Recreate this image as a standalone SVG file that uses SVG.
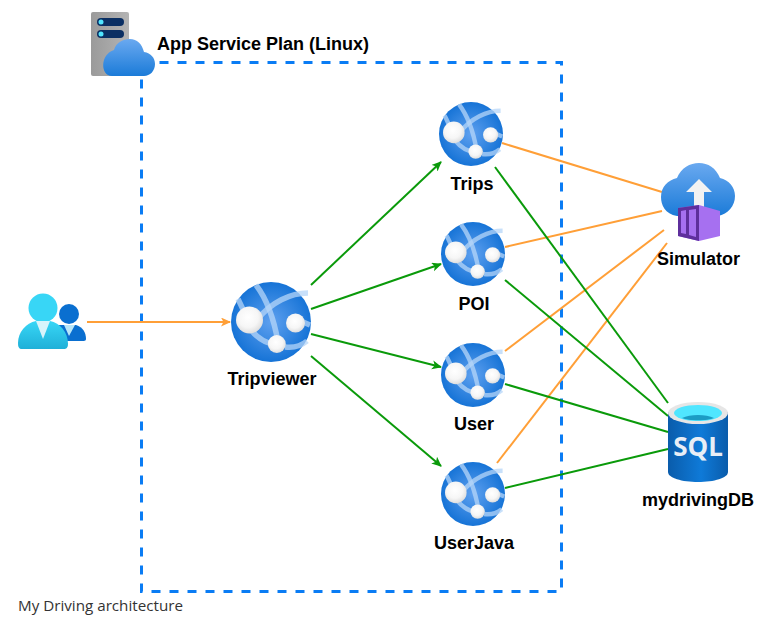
<svg xmlns="http://www.w3.org/2000/svg" xmlns:xlink="http://www.w3.org/1999/xlink" width="773" height="622" viewBox="0 0 773 622">
<style>
text{font-family:"Liberation Sans",Arial,sans-serif;fill:#000}
.l{font-size:18px;font-weight:700;text-anchor:middle}
.o{stroke:#ff9f37;stroke-width:2;fill:none}
.g{stroke:#0a9a0a;stroke-width:2;fill:none}
</style>
<defs>
<radialGradient id="gw" cx=".5" cy=".5" r=".55"><stop offset="0" stop-color="#5ea0ef"/><stop offset="1" stop-color="#0f6fd4"/></radialGradient>
<radialGradient id="gb" cx=".45" cy=".4" r=".62"><stop offset="0" stop-color="#fff"/><stop offset=".6" stop-color="#f6f6f6"/><stop offset="1" stop-color="#dcdcdc"/></radialGradient>
<linearGradient id="gc" x1="0" y1="0" x2="0" y2="1"><stop offset="0" stop-color="#6aa9f0"/><stop offset="1" stop-color="#1b7bd8"/></linearGradient>
<linearGradient id="gp" x1="0" y1="0" x2="0" y2="1"><stop offset="0" stop-color="#38d6f6"/><stop offset="1" stop-color="#1fb0d8"/></linearGradient>
<linearGradient id="gs" x1="0" y1="0" x2="1" y2="0"><stop offset="0" stop-color="#0a5cab"/><stop offset=".55" stop-color="#0f7ad8"/><stop offset="1" stop-color="#0a5cab"/></linearGradient>
<linearGradient id="gv" x1="0" y1="0" x2="1" y2="0"><stop offset="0" stop-color="#9a9a9a"/><stop offset="1" stop-color="#b4b4b4"/></linearGradient>
<marker id="mg" markerWidth="11" markerHeight="10" refX="9" refY="4.500" orient="auto" markerUnits="userSpaceOnUse"><path d="M0 0L10 4.500L0 9L2.500 4.500Z" fill="#0a9a0a"/></marker>
<marker id="mo" markerWidth="11" markerHeight="10" refX="9" refY="4.500" orient="auto" markerUnits="userSpaceOnUse"><path d="M0 0L10 4.500L0 9L2.500 4.500Z" fill="#ff9f37"/></marker>
<symbol id="web" viewBox="-40 -40 80 80" overflow="visible">
<circle r="40" fill="url(#gw)"/>
<g fill="none" stroke="#b6d6f8" stroke-opacity=".75" stroke-width="5.500">
<path d="M-33 -23C-29 -15 -26 -8 -22 0"/>
<path d="M-15 -37C-5 -24 2 -8 7 20"/>
<path d="M-14 -2C0 -20 20 -29 37 -29"/>
<path d="M-20 8C-12 18 -4 22 6 23"/>
<path d="M14 25C22 26 30 24 36 19"/>
<path d="M32 0L39 3"/>
</g>
<circle cx="-21.500" cy="-2" r="13.500" fill="url(#gb)"/>
<circle cx="24.500" cy="1" r="9.500" fill="url(#gb)"/>
<circle cx="5.800" cy="22" r="9" fill="url(#gb)"/>
</symbol>
</defs>
<rect width="773" height="622" fill="#fff"/>
<rect id="plan" x="141.500" y="62.500" width="420" height="529" fill="none" stroke="#0a7cf4" stroke-width="3" stroke-dasharray="9 9"/>
<g id="connectors">
<path class="o" d="M87 322H230" marker-end="url(#mo)"/>
<path class="g" d="M311 285L441 162" marker-end="url(#mg)"/>
<path class="g" d="M311 309L441 264" marker-end="url(#mg)"/>
<path class="g" d="M311 334L441 367" marker-end="url(#mg)"/>
<path class="g" d="M311 356L441 466" marker-end="url(#mg)"/>
<path class="o" d="M502 143L662 192"/>
<path class="o" d="M505 247L662 211"/>
<path class="o" d="M505 351L664 230"/>
<path class="o" d="M497 463L667 243"/>
<path class="g" d="M495 167L668 403"/>
<path class="g" d="M505 280L668 416"/>
<path class="g" d="M505 384L668 432"/>
<path class="g" d="M505 488L668 449"/>
</g>
<g id="plan-icon">
<rect x="91" y="12" width="38" height="64" rx="2" fill="url(#gv)"/>
<rect x="97" y="18" width="27" height="8" rx="4" fill="#0b2f63"/>
<rect x="97" y="30" width="27" height="8" rx="4" fill="#0b2f63"/>
<circle cx="101" cy="22" r="2.500" fill="#50e6ff"/>
<circle cx="101" cy="34" r="2.500" fill="#50e6ff"/>
<path d="M112 76C100 76 100 54 114 50C116 43 122 39 130 39C137 39 142 44 144 52C151 53 155 58 155 64C155 71 150 76 144 76Z" fill="url(#gc)"/>
<text x="157" y="50" style="font-size:18px;font-weight:700">App Service Plan (Linux)</text>
</g>
<g id="user">
<circle cx="43" cy="308" r="14.500" fill="#38d6f6"/>
<circle cx="69" cy="314" r="10" fill="#0a6fd0"/>
<path d="M58 325H76C83 327 86 333 86 339C86 341 84 341 82 341H50Z" fill="#0a6fd0"/>
<path d="M64 325H75L69 336Z" fill="#b9e6f8"/>
<path d="M18 343C18 332 26 323 36 321H50C60 323 68 332 68 344C68 348 66 349 64 349H22C19 349 18 347 18 343Z" fill="url(#gp)"/>
<path d="M36 321H50L43 339Z" fill="#d8f4fb"/>
</g>
<g id="tripviewer"><use xlink:href="#web" href="#web" x="231" y="282" width="80" height="80"/><text class="l" x="272" y="385">Tripviewer</text></g>
<g id="trips"><use xlink:href="#web" href="#web" x="439" y="102" width="64" height="64"/><text class="l" x="472" y="190">Trips</text></g>
<g id="poi"><use xlink:href="#web" href="#web" x="441" y="222" width="64" height="64"/><text class="l" x="474" y="310">POI</text></g>
<g id="user-app"><use xlink:href="#web" href="#web" x="441" y="343" width="64" height="64"/><text class="l" x="474" y="430">User</text></g>
<g id="userjava"><use xlink:href="#web" href="#web" x="441" y="462" width="64" height="64"/><text class="l" x="474" y="549">UserJava</text></g>
<g id="simulator">
<path d="M677 216C665 214 661 205 661 197C661 187 668 180 677 178C681 168 690 163 699 163C708 163 716 168 720 178C729 180 735 187 735 196C735 206 728 214 718 216Z" fill="url(#gc)"/>
<path d="M699 179L712 192H704V212H694V192H686Z" fill="#f2f2f2"/>
<path d="M678 208L699 205L720 211V236L699 241L678 236Z" fill="#a670f0"/>
<path d="M678 208L699 205V241L678 236Z" fill="#5e2f9c"/>
<path d="M681 211L686 210V234L681 233ZM689 210L696 209V237L689 235Z" fill="#a670f0"/>
<text class="l" x="698.500" y="265">Simulator</text>
</g>
<g id="db">
<path d="M668 412V472C668 478 682 482 698 482C714 482 728 478 728 472V412Z" fill="url(#gs)"/>
<ellipse cx="698" cy="413" rx="30" ry="11" fill="#e6e6e6"/>
<ellipse cx="698" cy="413" rx="24" ry="8" fill="#50e6ff"/>
<path d="M682 418C690 414 706 414 714 418C708 421 688 421 682 418Z" fill="#1c9cc4"/>
<text x="698" y="456" style="font-family:'Open Sans',sans-serif;font-size:26px;font-weight:700;text-anchor:middle;fill:#e8eef6">SQL</text>
<text class="l" x="698" y="506">mydrivingDB</text>
</g>
<text x="18" y="611" style="font-family:'Open Sans',sans-serif;font-size:15.200px;fill:#333">My Driving architecture</text>
</svg>
